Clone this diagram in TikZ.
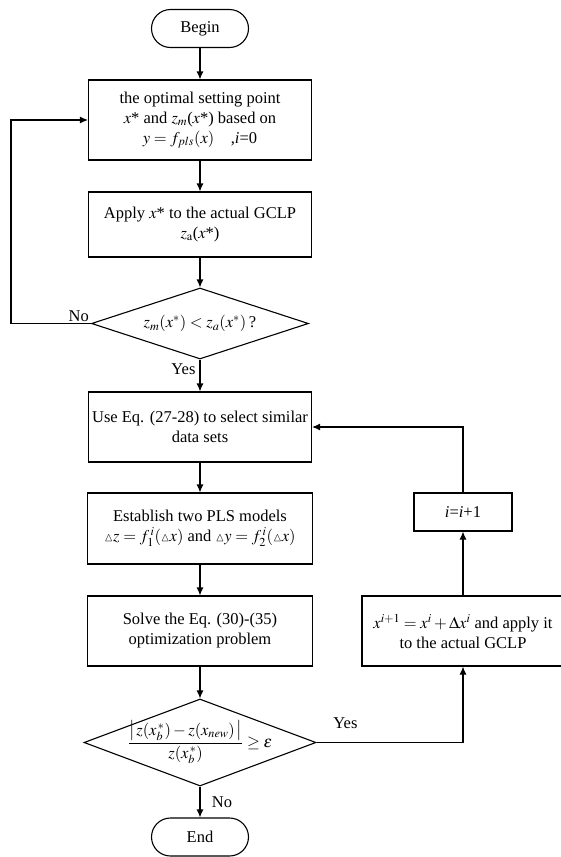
\documentclass[tikz,border=0pt]{standalone}
\usepackage{amsmath}
\usepackage{mathptmx}
\usepackage{amssymb}
\usepackage[no-math]{fontspec}
\setmainfont{Liberation Serif}
\usetikzlibrary{shapes.geometric,arrows.meta}

\begin{document}
\begin{tikzpicture}[node distance={100pt}, line width=1.1pt, >={Latex[length=8pt,width=7pt]}, font=\fontsize{16.5}{20}\selectfont, main/.style = {draw, rectangle, align=center, inner sep=0pt}, term/.style = {draw, rectangle, rounded corners=19pt, minimum width=97pt, minimum height=38pt}, dec/.style = {draw, diamond, aspect=3, inner sep=0pt}]
\useasboundingbox (0,0) rectangle (561pt,-857pt);
\node[term] (1) at (200pt,-28.5pt) {Begin};
\node[main,minimum width=223pt,minimum height=80pt] (2) [node distance=91.5pt, below of=1] {the optimal setting point\\ $x$* and $z_m$($x$*) based on\\ $y = f_{pls}(x)$\quad,\textit{i}=0};
\node[main,minimum width=223pt,minimum height=65pt] (3) [node distance=104.5pt, below of=2] {Apply $x$* to the actual GCLP\\ $z_{\mathrm{a}}$($x$*)};
\node[dec,minimum width=217pt,minimum height=71pt] (4) [node distance=99pt, below of=3] {$z_m(x^{*}) < z_a(x^{*})$\,?};
\node[main,minimum width=223pt,minimum height=70pt] (5) [node distance=103.5pt, below of=4] {Use Eq. (27-28) to select similar\\ data sets};
\node[main,minimum width=225pt,minimum height=71pt] (6) [node distance=101.5pt, below of=5] {Establish two PLS models\\ ${\scriptstyle\vartriangle}z = f_1^{\,i}({\scriptstyle\vartriangle}x)$ and ${\scriptstyle\vartriangle}y = f_2^{\,i}({\scriptstyle\vartriangle}x)$};
\node[main,minimum width=225pt,minimum height=70pt] (7) [node distance=102.5pt, below of=6] {Solve the Eq. (30)-(35)\\ optimization problem};
\node[dec,minimum width=232pt,minimum height=87pt, label={center:$\dfrac{\left|\,z(x_b^{\,*}) - z(x_{new})\,\right|}{z(x_b^{\,*})} \geq \varepsilon$}] (8) [node distance=111.5pt, below of=7] {};
\node[term] (9) [node distance=94.5pt, below of=8] {End};
\node[main,minimum width=202pt,minimum height=70pt] (10) [node distance=263pt, right of=7] {$x^{i+1} = x^i + \Delta x^i$ and apply it\\ to the actual GCLP};
\node[main,minimum width=98pt,minimum height=38pt] (11) [node distance=119pt, above of=10] {\textit{i}=\textit{i}+1};

\draw[->] (1) -- (2);
\draw[->] (2) -- (3);
\draw[->] (3) -- (4);
\draw[->] (4.south) node[below left, inner sep=4pt] {Yes} -- (5);
\draw[->] (4.west) node[above left, inner sep=1.5pt] {No} -- ++(-80pt,0) |- (2.west);
\draw[->] (5) -- (6);
\draw[->] (6) -- (7);
\draw[->] (7) -- (8);
\draw[->] (8.south) node[below right, xshift=8pt, yshift=-6pt] {No} -- (9);
\draw[->] (8.east) node[above right, xshift=13pt, yshift=10pt] {Yes} -| (10.south);
\draw[->] (10) -- (11);
\draw[->] (11) |- (5.east);
\end{tikzpicture}
\end{document}
